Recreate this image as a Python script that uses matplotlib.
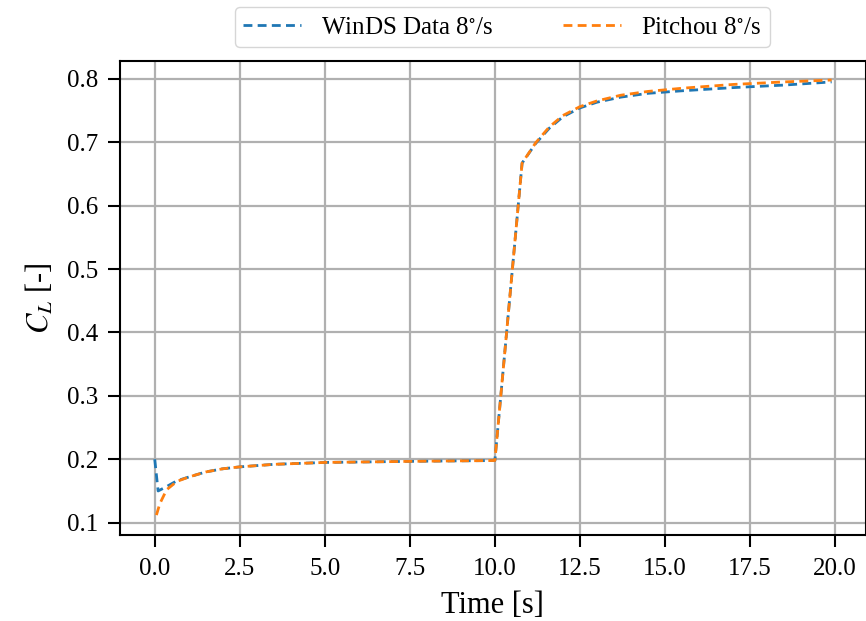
import matplotlib
matplotlib.use("Agg")
import matplotlib.pyplot as plt

plt.rcParams['font.family'] = ['Liberation Serif', 'DejaVu Serif']
plt.rcParams['mathtext.fontset'] = 'stix'

# WinDS data, 8 deg/s
t_winds = [0.0, 0.1, 0.35, 0.65, 1.0, 1.5, 2.0, 2.5, 3.5, 5.0, 6.5, 8.0, 10.0,
           10.8, 11.2, 11.6, 12.0, 12.5, 13.0, 13.7, 14.5, 15.5, 17.0, 18.5, 19.9]
cl_winds = [0.200, 0.150, 0.157, 0.166, 0.172, 0.180, 0.185, 0.188, 0.192, 0.195, 0.196, 0.197, 0.198,
            0.667, 0.698, 0.722, 0.740, 0.754, 0.763, 0.771, 0.777, 0.781, 0.786, 0.790, 0.795]

# Pitchou, 8 deg/s
t_pitchou = [0.05, 0.15, 0.35, 0.65, 1.0, 1.5, 2.0, 2.5, 3.5, 5.0, 6.5, 8.0, 10.0,
             10.8, 11.2, 11.6, 12.0, 12.5, 13.0, 13.7, 14.5, 15.5, 17.0, 18.5, 19.9]
cl_pitchou = [0.112, 0.130, 0.152, 0.165, 0.172, 0.180, 0.185, 0.188, 0.192, 0.195, 0.196, 0.197, 0.198,
              0.667, 0.699, 0.724, 0.742, 0.756, 0.765, 0.774, 0.780, 0.785, 0.791, 0.795, 0.798]

fig = plt.figure(figsize=(8.66, 6.21), dpi=100)
ax = fig.add_axes([0.1386, 0.1385, 0.861, 0.7633])

ax.plot(t_winds, cl_winds, color='#1f77b4', linewidth=2.0, linestyle=(0, (3.2, 1.9)),
        label=r'WinDS Data 8$^{\circ}$/s')
ax.plot(t_pitchou, cl_pitchou, color='#ff7f0e', linewidth=2.0, linestyle=(0, (3.2, 1.9)),
        label=r'Pitchou 8$^{\circ}$/s')

ax.set_xlim(-1.02, 20.9)
ax.set_ylim(0.0806, 0.828)
ax.set_xticks([0, 2.5, 5, 7.5, 10, 12.5, 15, 17.5, 20])
ax.set_yticks([0.1, 0.2, 0.3, 0.4, 0.5, 0.6, 0.7, 0.8])
ax.set_yticklabels(['0.1', '0.2', '0.3', '0.4', '0.5', '0.6', '0.7', '0.8'])
ax.grid(True, color='#b0b0b0', linewidth=1.6)
ax.tick_params(labelsize=18, width=1.5, length=8.5)
ax.tick_params(axis='x', pad=8)
ax.tick_params(axis='y', pad=7)
for s in ax.spines.values():
    s.set_linewidth(1.5)

ax.set_xlabel('Time [s]', fontsize=22, labelpad=8)
ax.set_ylabel(r'$C_L$ [-]', fontsize=22, labelpad=8)

fig.legend(loc='center', bbox_to_anchor=(0.58, 0.956), ncol=2, fontsize=18,
           handlelength=2.3, columnspacing=2.8, fancybox=True, edgecolor='#cccccc',
           borderpad=0.35)

fig.savefig('out.png', dpi=100)
